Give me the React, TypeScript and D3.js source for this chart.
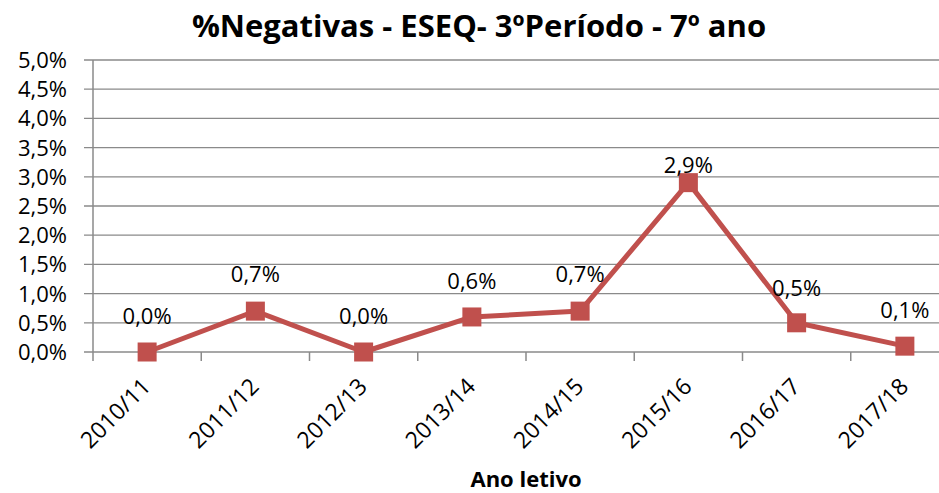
import * as React from 'react';
import * as d3 from 'd3';

const TITLE = '%Negativas - ESEQ- 3ºPeríodo - 7º ano';
const X_AXIS_LABEL = 'Ano letivo';

const YEARS = ['2010/11', '2011/12', '2012/13', '2013/14', '2014/15', '2015/16', '2016/17', '2017/18'];
const VALUES = [0.0, 0.7, 0.0, 0.6, 0.7, 2.9, 0.5, 0.1];
const Y_TICKS = [0, 0.5, 1, 1.5, 2, 2.5, 3, 3.5, 4, 4.5, 5];
// label lift above each point (the 2015/16 one sits lower in the original)
const LABEL_LIFT = [36, 37, 36, 36, 37, 18, 35, 36];

const FONT = '"Open Sans", "Liberation Sans", sans-serif';
const RED = '#c0504d';
const GRID = '#8a8a8a';

const fmt = (v: number) => v.toFixed(1).replace('.', ',') + '%';

const App: React.FC = () => {
    const svgRef = React.useRef<SVGSVGElement>(null);

    React.useEffect(() => {
        const svg = d3.select(svgRef.current);
        svg.selectAll('*').remove();

        /** ******** Canvas ********* */
        const MARGIN = { top: 60, left: 93 };
        const innerWidth = 866;
        const innerHeight = 292;
        const g = svg.append('g').attr('transform', `translate(${MARGIN.left},${MARGIN.top})`);

        /** ******** Title ********* */
        svg.append('text')
            .attr('x', 479)
            .attr('y', 37)
            .attr('text-anchor', 'middle')
            .attr('font-family', FONT)
            .attr('font-weight', 'bold')
            .attr('font-size', 31)
            .attr('fill', '#000')
            .text(TITLE);

        /** ******** Scales ********* */
        const xScale = d3.scaleBand<string>().domain(YEARS).range([0, innerWidth]);
        const yScale = d3.scaleLinear().domain([0, 5]).range([innerHeight, 0]);

        /** ******** Grid ********* */
        g.append('g')
            .selectAll('line')
            .data(Y_TICKS)
            .enter()
            .append('line')
            .attr('x1', -9)
            .attr('x2', innerWidth)
            .attr('y1', (d) => yScale(d))
            .attr('y2', (d) => yScale(d))
            .attr('stroke', GRID)
            .attr('stroke-width', 1.3);

        /** ******** Y axis ********* */
        g.append('line')
            .attr('x1', 0)
            .attr('x2', 0)
            .attr('y1', 0)
            .attr('y2', innerHeight)
            .attr('stroke', GRID)
            .attr('stroke-width', 1.5);
        g.append('g')
            .selectAll('text')
            .data(Y_TICKS)
            .enter()
            .append('text')
            .attr('x', -26)
            .attr('y', (d) => yScale(d))
            .attr('dy', '0.36em')
            .attr('text-anchor', 'end')
            .attr('font-family', FONT)
            .attr('font-size', 22)
            .attr('fill', '#000')
            .text((d) => fmt(d));

        /** ******** X axis ********* */
        const bounds = [...YEARS.map((y) => xScale(y)!), innerWidth];
        g.append('g')
            .selectAll('line')
            .data(bounds)
            .enter()
            .append('line')
            .attr('x1', (d) => d)
            .attr('x2', (d) => d)
            .attr('y1', innerHeight)
            .attr('y2', innerHeight + 9)
            .attr('stroke', GRID)
            .attr('stroke-width', 1.5);
        g.append('g')
            .selectAll('text')
            .data(YEARS)
            .enter()
            .append('text')
            .attr('transform', (d) => {
                const x = xScale(d)! + xScale.bandwidth() / 2 + 5;
                const y = innerHeight + 36;
                return `translate(${x},${y}) rotate(-45)`;
            })
            .attr('text-anchor', 'end')
            .attr('font-family', FONT)
            .attr('font-size', 23)
            .attr('fill', '#000')
            .text((d) => d);
        g.append('text')
            .attr('x', innerWidth / 2)
            .attr('y', 427)
            .attr('text-anchor', 'middle')
            .attr('font-family', FONT)
            .attr('font-weight', 'bold')
            .attr('font-size', 22)
            .attr('fill', '#000')
            .text(X_AXIS_LABEL);

        /** ******** Line ********* */
        const cx = (i: number) => xScale(YEARS[i])! + xScale.bandwidth() / 2;
        const line = d3
            .line<number>()
            .x((_, i) => cx(i))
            .y((d) => yScale(d));
        g.append('path')
            .datum(VALUES)
            .attr('d', line)
            .attr('fill', 'none')
            .attr('stroke', RED)
            .attr('stroke-width', 5)
            .attr('stroke-linejoin', 'round');

        /** ******** Markers ********* */
        const SIZE = 19;
        g.append('g')
            .selectAll('rect')
            .data(VALUES)
            .enter()
            .append('rect')
            .attr('x', (_, i) => cx(i) - SIZE / 2)
            .attr('y', (d) => yScale(d) - SIZE / 2)
            .attr('width', SIZE)
            .attr('height', SIZE)
            .attr('fill', RED);

        /** ******** Labels ********* */
        g.append('g')
            .selectAll('text')
            .data(VALUES)
            .enter()
            .append('text')
            .attr('x', (_, i) => cx(i))
            .attr('y', (d, i) => yScale(d) - LABEL_LIFT[i])
            .attr('dy', '0.36em')
            .attr('text-anchor', 'middle')
            .attr('font-family', FONT)
            .attr('font-size', 22)
            .attr('fill', '#000')
            .text((d) => fmt(d));
    }, []);

    return (
        <svg
            ref={svgRef}
            width={939}
            height={493}
            style={{ position: 'absolute', left: 0, top: 0, background: '#fff' }}
        />
    );
};

export default App;
